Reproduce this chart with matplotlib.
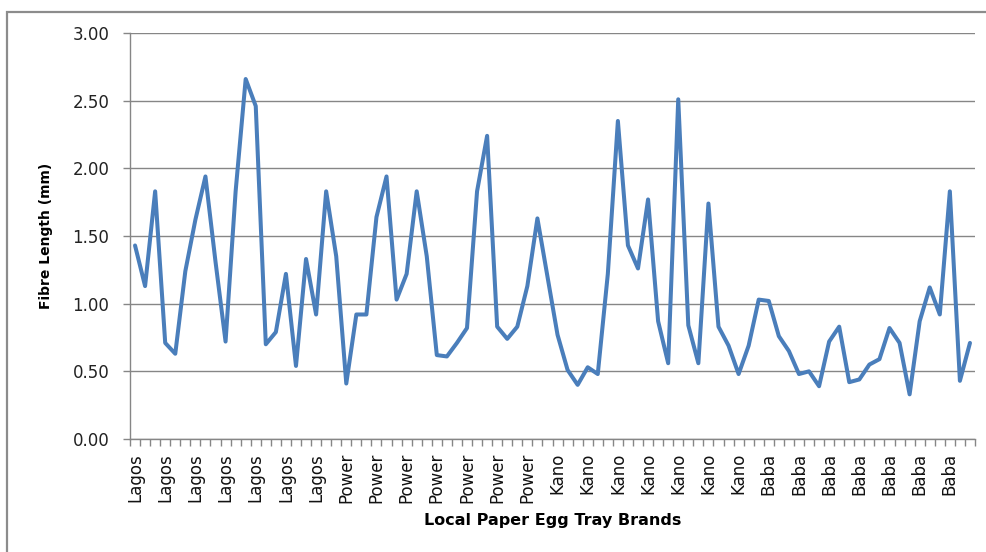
import matplotlib
matplotlib.use("Agg")
import matplotlib.pyplot as plt
from matplotlib.patches import Rectangle
from matplotlib.ticker import FixedLocator, FixedFormatter

# fibre length per sample, 21 samples per brand
lagos = [1.43, 1.13, 1.83, 0.71, 0.63, 1.24, 1.62, 1.94, 1.31, 0.72,
         1.83, 2.66, 2.46, 0.70, 0.79, 1.22, 0.54, 1.33, 0.92, 1.83, 1.35]
power = [0.41, 0.92, 0.92, 1.64, 1.94, 1.03, 1.22, 1.83, 1.35, 0.62,
         0.61, 0.71, 0.82, 1.83, 2.24, 0.83, 0.74, 0.83, 1.13, 1.63, 1.20]
kano = [0.77, 0.51, 0.40, 0.53, 0.48, 1.22, 2.35, 1.43, 1.26, 1.77,
        0.87, 0.56, 2.51, 0.84, 0.56, 1.74, 0.83, 0.69, 0.48, 0.69, 1.03]
baba = [1.02, 0.76, 0.65, 0.48, 0.50, 0.39, 0.72, 0.83, 0.42, 0.44,
        0.55, 0.59, 0.82, 0.71, 0.33, 0.87, 1.12, 0.92, 1.83, 0.43, 0.71]

brands = ["Lagos", "Power", "Kano", "Baba"]
values = lagos + power + kano + baba
names = []
for b, vals in zip(brands, [lagos, power, kano, baba]):
    names += [b] * len(vals)

GRID = "#868686"
BLUE = "#4A7EBB"

fig = plt.figure(figsize=(9.87, 5.52), dpi=100)
ax = fig.add_axes([130 / 987, 1 - 439 / 552, 845 / 987, 406 / 552])

xs = list(range(len(values)))
ax.plot(xs, values, color=BLUE, lw=2.9, solid_joinstyle="round", solid_capstyle="round")

ax.set_xlim(-0.5, len(values) - 0.5)
ax.set_ylim(0, 3.0)

# y axis: 0.50 steps with gridlines
yt = [0, 0.5, 1.0, 1.5, 2.0, 2.5, 3.0]
ax.set_yticks(yt)
ax.set_yticklabels(["%.2f" % v for v in yt])
ax.yaxis.grid(True, color=GRID, lw=1.0)
ax.set_axisbelow(True)
ax.tick_params(axis="y", length=5, color=GRID, width=1.0, labelsize=12, pad=10, labelcolor="#222222")

# x axis: a tick between every category, a label every third one
lab_idx = xs[::3]
ax.xaxis.set_major_locator(FixedLocator(lab_idx))
ax.xaxis.set_major_formatter(FixedFormatter([names[i] for i in lab_idx]))
ax.xaxis.set_minor_locator(FixedLocator([i - 0.5 for i in range(len(values) + 1)]))
ax.tick_params(axis="x", which="major", length=0, labelsize=12, pad=10, rotation=90, labelcolor="#111111")
ax.tick_params(axis="x", which="minor", length=5, color=GRID, width=1.0)

for s in ["top", "right"]:
    ax.spines[s].set_visible(False)
for s in ["left", "bottom"]:
    ax.spines[s].set_color(GRID)
    ax.spines[s].set_linewidth(1.0)

ax.set_ylabel("Fibre Length (mm)", fontsize=10, fontweight="bold")
ax.yaxis.label.set_va("center")
ax.yaxis.set_label_coords(-84 / 845, 0.5)
ax.set_xlabel("Local Paper Egg Tray Brands", fontsize=11.5, fontweight="bold")
ax.xaxis.label.set_va("center")
ax.xaxis.set_label_coords(0.5, -82 / 406)

# outer chart frame
fig.patches.append(Rectangle((7 / 987, -0.05), 1.1, 1 - 12 / 552 + 0.05,
                             transform=fig.transFigure, fill=False,
                             edgecolor="#8c8c8c", lw=1.6))

fig.savefig("out.png", dpi=100)
